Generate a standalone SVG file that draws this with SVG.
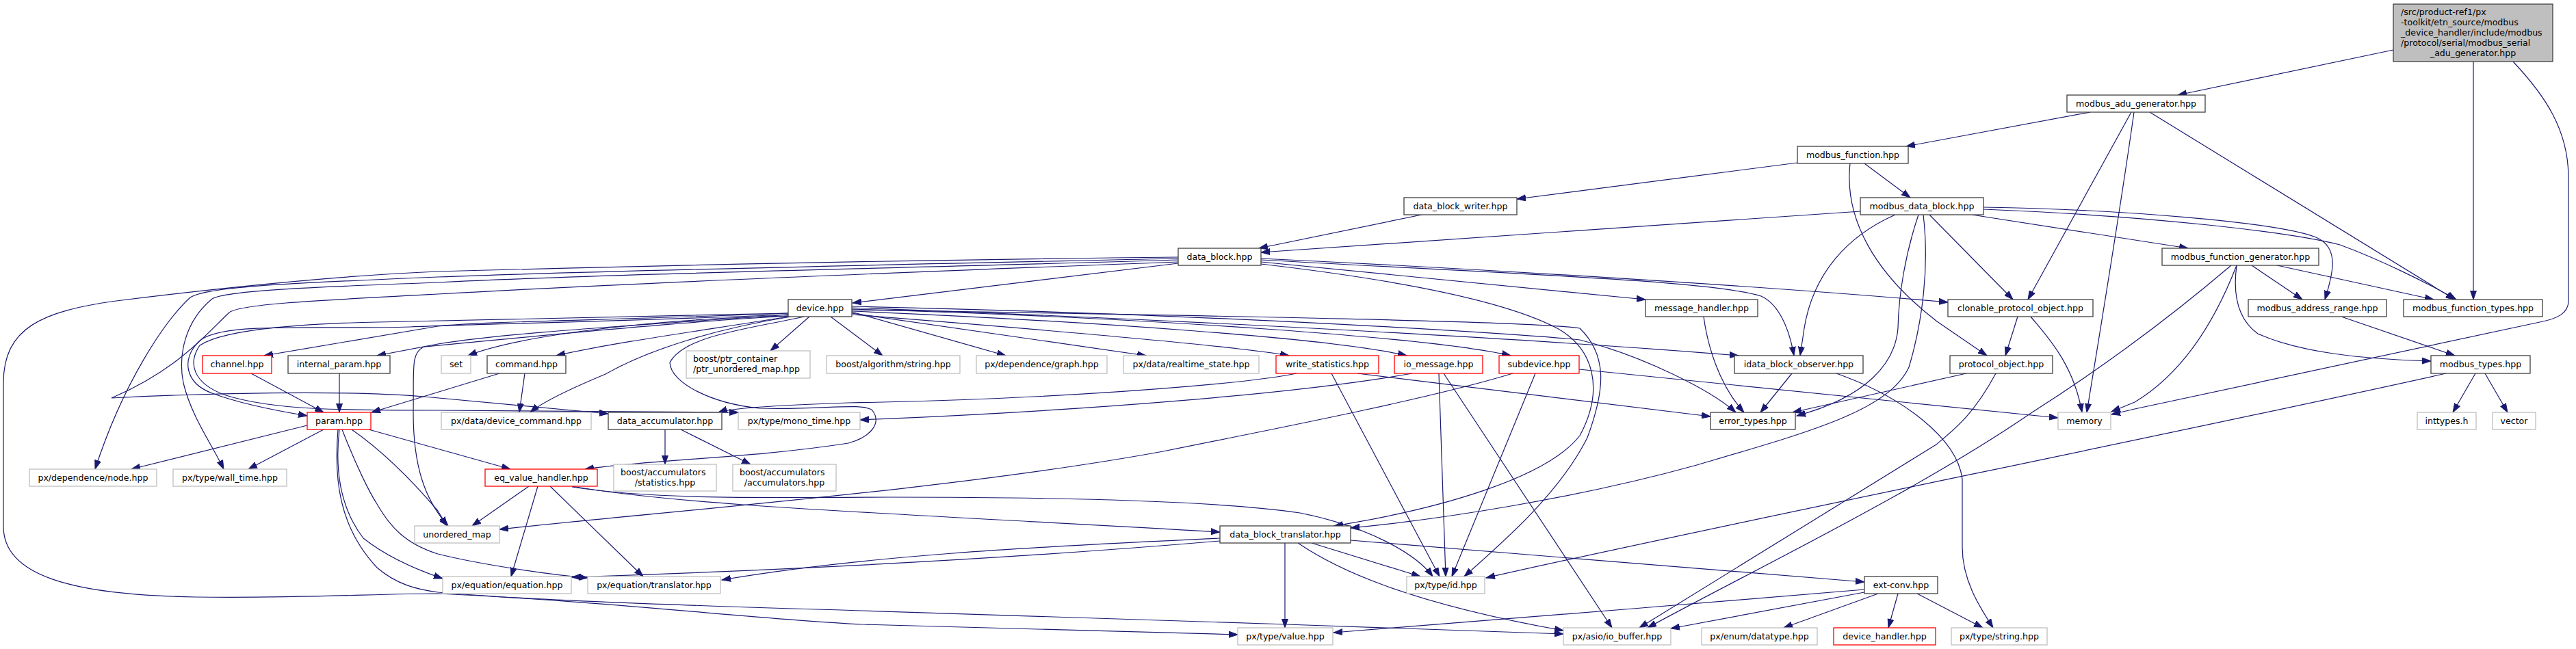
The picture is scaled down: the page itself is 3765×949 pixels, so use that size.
<svg xmlns="http://www.w3.org/2000/svg" width="3765" height="949" viewBox="0 0 3765 949">
<defs>
<style>
.n{fill:#fff;stroke:#404040;stroke-width:1.3}
.g{fill:#fff;stroke:#bfbfbf;stroke-width:1.3}
.r{fill:#fff;stroke:#ff0000;stroke-width:1.3}
.m{fill:#bfbfbf;stroke:#404040;stroke-width:1.3}
text{font-family:"DejaVu Sans","Liberation Sans",sans-serif;font-size:12.6px;fill:#000}
.c{text-anchor:middle}
#edges path{fill:none;stroke:#191970;stroke-width:1.2;marker-end:url(#a)}
</style>
<marker id="a" markerUnits="userSpaceOnUse" markerWidth="14" markerHeight="10" refX="13" refY="5" orient="auto"><path d="M0,0.5 L13,5 L0,9.5 z" fill="#191970" stroke="#191970" stroke-width="1"/></marker>
</defs>
<rect width="3765" height="949" fill="#fff"/>
<g id="edges">
<path d="M3498,73 L3183,139"/>
<path d="M3615,90 L3615,438"/>
<path d="M3673,90 C3720,140 3754,190 3754,260 L3754,440 C3754,458 3738,466 3712,471 L3120,598 L3086,606"/>
<path d="M3055,164 L2786,214"/>
<path d="M3115,164 L2964,438"/>
<path d="M3119,164 C3100,300 3075,450 3050,603"/>
<path d="M3142,164 L3588,438"/>
<path d="M2627,238 L2217,291"/>
<path d="M2725,239 L2792,289"/>
<path d="M2704,239 C2695,320 2740,400 2831,470 L2904,520"/>
<path d="M2078,314 L1840,363"/>
<path d="M2719,309 L1843,369"/>
<path d="M2899,303 C3100,306 3330,325 3385,347 C3420,362 3410,400 3398,438"/>
<path d="M2899,306 C3150,316 3350,340 3420,358 C3480,380 3550,415 3590,438"/>
<path d="M2882,314 L3198,363"/>
<path d="M2820,314 L2942,438"/>
<path d="M2770,314 C2700,345 2650,400 2637,480 L2631,520"/>
<path d="M2804,314 C2785,370 2775,430 2774,480 C2770,530 2730,580 2626,608"/>
<path d="M2811,314 C2820,390 2810,470 2790,537 C2760,600 2650,630 2480,680 C2300,730 2100,760 1974,772"/>
<path d="M3291,388 L3365,438"/>
<path d="M3328,388 L3557,438"/>
<path d="M3261,388 C3200,440 3100,520 2970,603 C2800,720 2550,840 2408,918"/>
<path d="M3269,388 C3245,450 3200,540 3120,588 L3086,602"/>
<path d="M3269,388 C3262,440 3275,470 3300,488 C3360,515 3450,525 3553,528"/>
<path d="M3422,463 L3588,520"/>
<path d="M3618,546 L3585,603"/>
<path d="M3632,546 L3665,603"/>
<path d="M3575,546 C3200,630 2500,770 2172,845"/>
<path d="M2949,463 L2931,520"/>
<path d="M2968,463 C2990,490 3030,530 3043,603"/>
<path d="M1722,385 L1246,443"/>
<path d="M1843,378 C2200,395 2600,420 2847,442"/>
<path d="M1843,380 C2200,400 2500,410 2574,433 C2600,445 2615,480 2622,520"/>
<path d="M1843,383 L2405,438"/>
<path d="M1843,386 C2050,410 2200,440 2276,480 C2330,510 2345,570 2309,637 C2260,700 2100,745 1950,769"/>
<path d="M1722,378 C1400,385 900,395 640,405 C400,415 300,420 278,435 C240,470 180,560 139,686"/>
<path d="M1722,380 C1400,390 900,400 640,413 C450,420 330,425 310,437 C270,470 260,520 268,560 C280,610 310,650 327,686"/>
<path d="M1722,383 C1400,395 900,415 640,430 C450,440 350,445 335,457 C300,490 260,540 163,582 C300,575 500,570 620,580 L889,605"/>
<path d="M1722,376 C1300,380 900,390 640,397 C450,405 250,430 170,440 C60,455 5,480 5,560 L5,770 C5,840 100,870 286,873 C450,875 550,868 640,868 C900,880 1100,905 1260,913 L1809,928"/>
<path d="M2490,463 C2495,500 2510,560 2549,603"/>
<path d="M2619,546 L2573,603"/>
<path d="M2684,546 C2780,580 2860,640 2868,700 L2868,800 C2868,850 2895,890 2913,918"/>
<path d="M2874,546 L2620,603"/>
<path d="M2917,546 C2885,605 2860,625 2830,650 L2396,918"/>
<path d="M2725,866 L2442,919"/>
<path d="M2725,862 C2500,880 2100,915 1949,925"/>
<path d="M2745,868 L2607,918"/>
<path d="M2774,868 L2760,918"/>
<path d="M2802,868 L2898,918"/>
<path d="M1974,790 L2725,851"/>
<path d="M1878,794 L1878,918"/>
<path d="M1917,794 L2076,843"/>
<path d="M1897,794 C1950,830 2050,880 2285,922"/>
<path d="M1783,787 C1500,800 1260,813 1055,848"/>
<path d="M1783,791 C1500,815 1200,832 836,844"/>
<path d="M836,711 C1000,740 1300,750 1783,778"/>
<path d="M836,712 C950,730 1100,728 1300,727 C1600,727 1800,735 1900,750 C2000,770 2070,810 2094,843"/>
<path d="M773,711 L690,769"/>
<path d="M786,711 L747,843"/>
<path d="M804,711 L940,843"/>
<path d="M2211,546 C2100,580 1900,620 1700,660 C1400,715 1000,745 730,774"/>
<path d="M2244,546 L2122,843"/>
<path d="M2308,540 L3008,611"/>
<path d="M2103,546 L2113,843"/>
<path d="M2110,546 L2356,918"/>
<path d="M2064,546 C1900,575 1600,600 1257,614"/>
<path d="M1946,546 L2104,843"/>
<path d="M1984,546 L2500,609"/>
<path d="M1895,546 C1800,565 1500,585 1240,589 C1150,592 1070,596 1050,603"/>
<path d="M1152,458 C900,468 700,470 640,477 L386,520"/>
<path d="M1152,460 C950,475 750,485 640,503 L551,520"/>
<path d="M1152,462 C960,466 760,490 684,520"/>
<path d="M1152,463 C1050,480 900,500 813,520"/>
<path d="M1156,463 C1050,480 950,510 885,547 C830,570 790,590 775,603"/>
<path d="M1183,463 L1126,513"/>
<path d="M1214,463 L1290,520"/>
<path d="M1245,456 L1470,520"/>
<path d="M1245,458 L1675,520"/>
<path d="M1245,460 C1500,480 1800,505 1884,520"/>
<path d="M1245,455 C1600,470 1950,495 2056,520"/>
<path d="M1245,452 C1700,465 2100,495 2208,520"/>
<path d="M1245,450 C1800,470 2300,500 2541,520"/>
<path d="M1245,448 C1800,460 2250,490 2309,497 C2400,520 2500,570 2537,603"/>
<path d="M1152,460 C900,470 700,474 600,478 C450,482 320,470 290,500 C265,525 270,560 310,575 C350,590 400,600 449,608"/>
<path d="M1152,458 C900,465 700,468 600,470 C450,472 330,480 292,505 C275,530 280,560 330,578 C400,600 500,600 640,600 L1079,603"/>
<path d="M1155,462 C1000,470 800,490 620,507 C600,515 605,540 604,603 C604,680 620,730 655,769"/>
<path d="M1175,463 C1100,480 1000,490 979,530 C980,560 1040,590 1110,597 C1200,600 1260,588 1275,600 C1290,620 1270,640 1240,648 C1100,670 950,672 855,686"/>
<path d="M1245,453 C1800,462 2250,470 2309,480 C2350,520 2346,570 2320,640 C2280,720 2200,790 2140,843"/>
<path d="M449,622 L192,686"/>
<path d="M473,628 L363,686"/>
<path d="M539,628 L746,686"/>
<path d="M514,628 C560,660 600,700 640,747 L653,769"/>
<path d="M496,628 C490,680 495,740 531,787 C560,810 600,830 647,846"/>
<path d="M500,628 C520,680 540,720 551,737 C570,770 592,795 640,810 C700,825 800,840 859,845"/>
<path d="M494,628 C488,700 495,770 551,830 C580,855 610,862 640,866 C800,880 1100,888 1260,893 L1880,913 L2285,927"/>
<path d="M367,546 L473,603"/>
<path d="M496,546 L496,603"/>
<path d="M767,546 L759,603"/>
<path d="M730,546 L543,603"/>
<path d="M972,628 L972,679"/>
<path d="M995,628 L1097,679"/>
</g>
<g id="main"><rect class="m" x="3498" y="6" width="233" height="84"/><text x="3509" y="21.5">/src/product-ref1/px</text><text x="3509" y="36.5">-toolkit/etn_source/modbus</text><text x="3509" y="51.5">_device_handler/include/modbus</text><text x="3509" y="66.5">/protocol/serial/modbus_serial</text><text class="c" x="3614.5" y="81.5">_adu_generator.hpp</text></g>
<g id="adu"><rect class="n" x="3021" y="139" width="202" height="25"/><text class="c" x="3122" y="156">modbus_adu_generator.hpp</text></g>
<g id="mfunc"><rect class="n" x="2627" y="214" width="162" height="25"/><text class="c" x="2708" y="231">modbus_function.hpp</text></g>
<g id="dbw"><rect class="n" x="2052" y="289" width="165" height="25"/><text class="c" x="2134.5" y="306">data_block_writer.hpp</text></g>
<g id="mdb"><rect class="n" x="2719" y="289" width="180" height="25"/><text class="c" x="2809" y="306">modbus_data_block.hpp</text></g>
<g id="db"><rect class="n" x="1722" y="363" width="121" height="25"/><text class="c" x="1782.5" y="380">data_block.hpp</text></g>
<g id="mfg"><rect class="n" x="3160" y="363" width="229" height="25"/><text class="c" x="3274.5" y="380">modbus_function_generator.hpp</text></g>
<g id="device"><rect class="n" x="1152" y="438" width="93" height="25"/><text class="c" x="1198.5" y="455">device.hpp</text></g>
<g id="msgh"><rect class="n" x="2405" y="438" width="164" height="25"/><text class="c" x="2487" y="455">message_handler.hpp</text></g>
<g id="clon"><rect class="n" x="2847" y="438" width="212" height="25"/><text class="c" x="2953" y="455">clonable_protocol_object.hpp</text></g>
<g id="mar"><rect class="n" x="3286" y="438" width="202" height="25"/><text class="c" x="3387" y="455">modbus_address_range.hpp</text></g>
<g id="mft"><rect class="n" x="3513" y="438" width="203" height="25"/><text class="c" x="3614.5" y="455">modbus_function_types.hpp</text></g>
<g id="channel"><rect class="r" x="296" y="520" width="101" height="26"/><text class="c" x="346.5" y="537">channel.hpp</text></g>
<g id="iparam"><rect class="n" x="421" y="520" width="149" height="26"/><text class="c" x="495.5" y="537">internal_param.hpp</text></g>
<g id="set"><rect class="g" x="645" y="520" width="43" height="26"/><text class="c" x="666.5" y="537">set</text></g>
<g id="command"><rect class="n" x="712" y="520" width="115" height="26"/><text class="c" x="769.5" y="537">command.hpp</text></g>
<g id="ptrmap"><rect class="g" x="1003" y="513" width="181" height="40"/><text x="1013" y="528.5">boost/ptr_container</text><text x="1013" y="543.5">/ptr_unordered_map.hpp</text></g>
<g id="bstr"><rect class="g" x="1208" y="520" width="195" height="26"/><text class="c" x="1305.5" y="537">boost/algorithm/string.hpp</text></g>
<g id="graph"><rect class="g" x="1427" y="520" width="191" height="26"/><text class="c" x="1522.5" y="537">px/dependence/graph.hpp</text></g>
<g id="rts"><rect class="g" x="1642" y="520" width="198" height="26"/><text class="c" x="1741" y="537">px/data/realtime_state.hpp</text></g>
<g id="wstat"><rect class="r" x="1865" y="520" width="150" height="26"/><text class="c" x="1940" y="537">write_statistics.hpp</text></g>
<g id="iomsg"><rect class="r" x="2038" y="520" width="129" height="26"/><text class="c" x="2102.5" y="537">io_message.hpp</text></g>
<g id="subdev"><rect class="r" x="2191" y="520" width="117" height="26"/><text class="c" x="2249.5" y="537">subdevice.hpp</text></g>
<g id="idbo"><rect class="n" x="2535" y="520" width="188" height="26"/><text class="c" x="2629" y="537">idata_block_observer.hpp</text></g>
<g id="pobj"><rect class="n" x="2850" y="520" width="150" height="26"/><text class="c" x="2925" y="537">protocol_object.hpp</text></g>
<g id="mtypes"><rect class="n" x="3553" y="520" width="145" height="26"/><text class="c" x="3625.5" y="537">modbus_types.hpp</text></g>
<g id="param"><rect class="r" x="449" y="603" width="93" height="25"/><text class="c" x="495.5" y="620">param.hpp</text></g>
<g id="devcmd"><rect class="g" x="645" y="603" width="219" height="25"/><text class="c" x="754.5" y="620">px/data/device_command.hpp</text></g>
<g id="dacc"><rect class="n" x="889" y="603" width="166" height="25"/><text class="c" x="972" y="620">data_accumulator.hpp</text></g>
<g id="mono"><rect class="g" x="1079" y="603" width="178" height="25"/><text class="c" x="1168" y="620">px/type/mono_time.hpp</text></g>
<g id="err"><rect class="n" x="2500" y="603" width="124" height="25"/><text class="c" x="2562" y="620">error_types.hpp</text></g>
<g id="memory"><rect class="g" x="3008" y="603" width="77" height="25"/><text class="c" x="3046.5" y="620">memory</text></g>
<g id="inttypes"><rect class="g" x="3533" y="603" width="86" height="25"/><text class="c" x="3576" y="620">inttypes.h</text></g>
<g id="vector"><rect class="g" x="3643" y="603" width="63" height="25"/><text class="c" x="3674.5" y="620">vector</text></g>
<g id="node"><rect class="g" x="43" y="686" width="186" height="25"/><text class="c" x="136" y="703">px/dependence/node.hpp</text></g>
<g id="wall"><rect class="g" x="253" y="686" width="166" height="25"/><text class="c" x="336" y="703">px/type/wall_time.hpp</text></g>
<g id="eqvh"><rect class="r" x="709" y="686" width="164" height="25"/><text class="c" x="791" y="703">eq_value_handler.hpp</text></g>
<g id="bstat"><rect class="g" x="897" y="679" width="150" height="39"/><text x="907" y="694.5">boost/accumulators</text><text class="c" x="972" y="709.5">/statistics.hpp</text></g>
<g id="bacc"><rect class="g" x="1071" y="679" width="151" height="39"/><text x="1081" y="694.5">boost/accumulators</text><text class="c" x="1146.5" y="709.5">/accumulators.hpp</text></g>
<g id="umap"><rect class="g" x="606" y="769" width="124" height="25"/><text class="c" x="668" y="786">unordered_map</text></g>
<g id="dbt"><rect class="n" x="1783" y="769" width="191" height="25"/><text class="c" x="1878.5" y="786">data_block_translator.hpp</text></g>
<g id="eq"><rect class="g" x="647" y="843" width="188" height="25"/><text class="c" x="741" y="860">px/equation/equation.hpp</text></g>
<g id="tr"><rect class="g" x="859" y="843" width="194" height="25"/><text class="c" x="956" y="860">px/equation/translator.hpp</text></g>
<g id="id"><rect class="g" x="2056" y="843" width="114" height="25"/><text class="c" x="2113" y="860">px/type/id.hpp</text></g>
<g id="ext"><rect class="n" x="2725" y="843" width="107" height="25"/><text class="c" x="2778.5" y="860">ext-conv.hpp</text></g>
<g id="value"><rect class="g" x="1809" y="918" width="139" height="25"/><text class="c" x="1878.5" y="935">px/type/value.hpp</text></g>
<g id="iobuf"><rect class="g" x="2285" y="918" width="157" height="25"/><text class="c" x="2363.5" y="935">px/asio/io_buffer.hpp</text></g>
<g id="dtype"><rect class="g" x="2487" y="918" width="169" height="25"/><text class="c" x="2571.5" y="935">px/enum/datatype.hpp</text></g>
<g id="dh"><rect class="r" x="2680" y="918" width="149" height="25"/><text class="c" x="2754.5" y="935">device_handler.hpp</text></g>
<g id="str"><rect class="g" x="2852" y="918" width="140" height="25"/><text class="c" x="2922" y="935">px/type/string.hpp</text></g>
</svg>
